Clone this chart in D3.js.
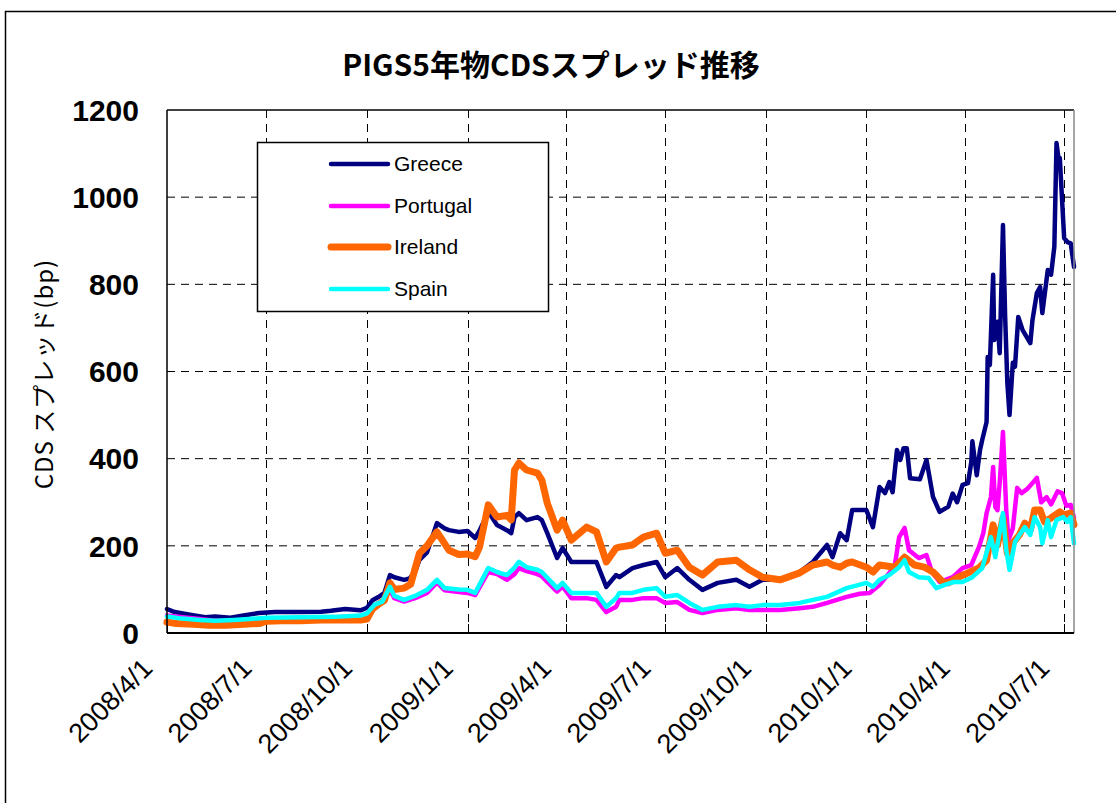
<!DOCTYPE html>
<html>
<head>
<meta charset="utf-8">
<script src="https://cdn.jsdelivr.net/npm/d3@7"></script>
<style>
  body { margin: 0; background: #fff; }
  svg { display: block; }
  text { font-family: "Liberation Sans", Arial, "Noto Sans CJK JP", sans-serif; fill: #000; }
</style>
</head>
<body>
<svg id="chart" width="1116" height="803"></svg>
<script>
// data ***********************************************************************
var seriesNames = ["Greece", "Portugal", "Ireland", "Spain"]
var seriesCols = ["#000080", "#ff00ff", "#ff6600", "#00ffff"]
var seriesWidths = [4.5, 4.5, 7, 4.5]
var yTicks = [0, 200, 400, 600, 800, 1000, 1200]

var greece = [["2008-04-01",55],["2008-04-08",48],["2008-04-22",42],["2008-05-06",36],["2008-05-15",38],["2008-05-29",35],["2008-06-10",40],["2008-06-24",46],["2008-07-09",48],["2008-08-01",48],["2008-08-20",49],["2008-08-29",51],["2008-09-11",55],["2008-09-25",52],["2008-10-01",58],["2008-10-06",75],["2008-10-11",82],["2008-10-17",92],["2008-10-22",133],["2008-10-26",128],["2008-11-04",122],["2008-11-09",125],["2008-11-14",140],["2008-11-18",168],["2008-11-25",185],["2008-12-04",252],["2008-12-11",240],["2008-12-15",236],["2008-12-24",232],["2009-01-01",234],["2009-01-08",218],["2009-01-12",235],["2009-01-20",278],["2009-01-28",248],["2009-02-06",236],["2009-02-10",229],["2009-02-13",266],["2009-02-17",275],["2009-02-24",259],["2009-03-06",266],["2009-03-10",259],["2009-03-15",229],["2009-03-24",172],["2009-03-29",195],["2009-04-06",163],["2009-04-20",163],["2009-04-29",163],["2009-05-08",106],["2009-05-17",133],["2009-05-20",128],["2009-06-01",149],["2009-06-11",156],["2009-06-23",163],["2009-07-01",128],["2009-07-12",149],["2009-07-23",122],["2009-08-04",99],["2009-08-18",115],["2009-09-04",122],["2009-09-16",106],["2009-09-28",122],["2009-10-14",122],["2009-11-01",140],["2009-11-13",163],["2009-11-26",202],["2009-12-01",174],["2009-12-08",229],["2009-12-14",213],["2009-12-19",282],["2010-01-01",282],["2010-01-07",243],["2010-01-13",335],["2010-01-18",321],["2010-01-22",346],["2010-01-25",323],["2010-01-29",420],["2010-02-01",397],["2010-02-04",424],["2010-02-07",424],["2010-02-10",355],["2010-02-19",353],["2010-02-25",397],["2010-03-03",312],["2010-03-09",278],["2010-03-17",290],["2010-03-21",320],["2010-03-25",300],["2010-03-30",340],["2010-04-04",344],["2010-04-07",392],["2010-04-08",440],["2010-04-12",362],["2010-04-15",420],["2010-04-17",443],["2010-04-21",484],["2010-04-22",633],["2010-04-24",615],["2010-04-27",822],["2010-04-28",672],["2010-05-01",714],["2010-05-03",642],["2010-05-06",936],["2010-05-08",725],["2010-05-10",574],["2010-05-12",500],["2010-05-15",620],["2010-05-17",611],["2010-05-20",725],["2010-05-24",695],["2010-05-31",665],["2010-06-02",718],["2010-06-06",780],["2010-06-09",794],["2010-06-11",734],["2010-06-16",833],["2010-06-19",822],["2010-06-22",886],["2010-06-24",1124],["2010-06-26",1085],["2010-06-27",1090],["2010-07-01",906],["2010-07-04",897],["2010-07-07",894],["2010-07-10",840]]

var portugal = [["2008-04-01",40],["2008-04-15",36],["2008-05-01",32],["2008-05-15",28],["2008-06-01",28],["2008-06-15",30],["2008-07-01",33],["2008-08-01",34],["2008-09-01",36],["2008-09-25",38],["2008-10-01",45],["2008-10-08",62],["2008-10-15",70],["2008-10-22",100],["2008-10-26",80],["2008-11-04",72],["2008-11-14",80],["2008-11-25",92],["2008-12-04",116],["2008-12-11",98],["2008-12-24",94],["2009-01-01",92],["2009-01-08",87],["2009-01-20",140],["2009-01-28",135],["2009-02-06",122],["2009-02-13",135],["2009-02-17",149],["2009-02-24",142],["2009-03-06",135],["2009-03-10",130],["2009-03-24",95],["2009-03-29",107],["2009-04-06",80],["2009-04-20",80],["2009-04-29",76],["2009-05-08",48],["2009-05-17",60],["2009-05-20",76],["2009-06-01",76],["2009-06-11",80],["2009-06-23",80],["2009-07-01",69],["2009-07-12",71],["2009-07-23",53],["2009-08-04",46],["2009-08-18",53],["2009-09-04",57],["2009-09-16",53],["2009-09-28",53],["2009-10-14",53],["2009-11-01",57],["2009-11-13",60],["2009-11-26",69],["2009-12-14",83],["2009-12-26",90],["2010-01-04",92],["2010-01-13",110],["2010-01-22",138],["2010-01-27",155],["2010-01-31",220],["2010-02-05",241],["2010-02-09",190],["2010-02-18",172],["2010-02-25",179],["2010-03-02",140],["2010-03-09",117],["2010-03-21",128],["2010-03-30",149],["2010-04-07",156],["2010-04-14",197],["2010-04-18",229],["2010-04-21",275],["2010-04-25",312],["2010-04-27",381],["2010-04-29",289],["2010-05-01",282],["2010-05-03",344],["2010-05-06",461],["2010-05-09",282],["2010-05-11",213],["2010-05-15",240],["2010-05-19",333],["2010-05-23",321],["2010-05-28",330],["2010-06-02",344],["2010-06-06",356],["2010-06-10",300],["2010-06-15",312],["2010-06-19",295],["2010-06-25",325],["2010-06-29",321],["2010-07-03",292],["2010-07-07",294],["2010-07-10",264]]

var ireland = [["2008-04-01",25],["2008-04-10",22],["2008-04-25",20],["2008-05-10",18],["2008-05-25",18],["2008-06-10",20],["2008-06-25",22],["2008-07-01",27],["2008-07-15",28],["2008-08-01",28],["2008-08-20",30],["2008-09-10",30],["2008-09-25",30],["2008-10-01",32],["2008-10-06",55],["2008-10-11",65],["2008-10-17",75],["2008-10-22",115],["2008-10-26",100],["2008-11-04",103],["2008-11-10",112],["2008-11-18",183],["2008-11-25",200],["2008-12-04",232],["2008-12-15",190],["2008-12-24",180],["2009-01-01",181],["2009-01-08",175],["2009-01-12",197],["2009-01-20",294],["2009-01-28",266],["2009-02-06",270],["2009-02-10",260],["2009-02-13",374],["2009-02-17",390],["2009-02-24",374],["2009-03-06",367],["2009-03-10",351],["2009-03-15",298],["2009-03-24",236],["2009-03-29",259],["2009-04-06",213],["2009-04-20",243],["2009-04-29",232],["2009-05-08",163],["2009-05-17",195],["2009-05-20",197],["2009-06-01",202],["2009-06-11",220],["2009-06-23",229],["2009-07-01",183],["2009-07-12",190],["2009-07-23",151],["2009-08-04",133],["2009-08-18",163],["2009-09-04",167],["2009-09-16",145],["2009-09-28",128],["2009-10-14",122],["2009-11-01",138],["2009-11-13",156],["2009-11-26",163],["2009-12-01",156],["2009-12-08",151],["2009-12-14",160],["2009-12-19",163],["2010-01-01",151],["2010-01-07",140],["2010-01-13",156],["2010-01-27",151],["2010-02-05",174],["2010-02-14",156],["2010-02-23",151],["2010-03-03",140],["2010-03-12",117],["2010-03-17",115],["2010-03-26",128],["2010-04-04",138],["2010-04-14",149],["2010-04-21",167],["2010-04-27",248],["2010-05-01",202],["2010-05-06",264],["2010-05-10",183],["2010-05-15",206],["2010-05-21",225],["2010-05-26",252],["2010-05-31",236],["2010-06-04",282],["2010-06-09",282],["2010-06-13",255],["2010-06-19",264],["2010-06-27",278],["2010-07-01",271],["2010-07-07",275],["2010-07-10",248]]

var spain = [["2008-04-01",38],["2008-04-15",33],["2008-05-01",30],["2008-05-15",28],["2008-06-01",30],["2008-06-15",32],["2008-07-01",35],["2008-08-01",36],["2008-09-01",37],["2008-09-25",40],["2008-10-01",45],["2008-10-08",65],["2008-10-15",72],["2008-10-22",106],["2008-10-26",85],["2008-11-04",76],["2008-11-14",85],["2008-11-25",99],["2008-12-04",122],["2008-12-11",103],["2008-12-24",100],["2009-01-01",99],["2009-01-08",92],["2009-01-20",149],["2009-01-28",140],["2009-02-06",133],["2009-02-13",150],["2009-02-17",163],["2009-02-24",151],["2009-03-06",145],["2009-03-10",140],["2009-03-24",103],["2009-03-29",115],["2009-04-06",92],["2009-04-20",92],["2009-04-29",92],["2009-05-08",60],["2009-05-17",80],["2009-05-20",92],["2009-06-01",92],["2009-06-11",99],["2009-06-23",103],["2009-07-01",83],["2009-07-12",87],["2009-07-23",69],["2009-08-04",53],["2009-08-18",60],["2009-09-04",64],["2009-09-16",60],["2009-09-28",64],["2009-10-14",64],["2009-11-01",69],["2009-11-13",76],["2009-11-26",83],["2009-12-14",103],["2010-01-01",115],["2010-01-07",106],["2010-01-13",122],["2010-01-22",133],["2010-01-31",151],["2010-02-05",167],["2010-02-09",140],["2010-02-18",128],["2010-02-27",126],["2010-03-06",103],["2010-03-13",110],["2010-03-22",117],["2010-03-30",117],["2010-04-08",128],["2010-04-17",149],["2010-04-25",220],["2010-04-29",174],["2010-05-06",275],["2010-05-09",190],["2010-05-12",145],["2010-05-17",209],["2010-05-21",225],["2010-05-26",243],["2010-05-31",225],["2010-06-04",266],["2010-06-09",243],["2010-06-11",206],["2010-06-16",259],["2010-06-19",220],["2010-06-24",259],["2010-06-30",266],["2010-07-04",255],["2010-07-07",266],["2010-07-10",206]]

var allSeries = [greece, portugal, ireland, spain]

// chart setup ****************************************************************
var svg = d3.select("#chart")
var parse = d3.timeParse("%Y-%m-%d")

var plotL = 167, plotR = 1074, plotT = 110, plotB = 633;

var x = d3.scaleTime()
    .domain([parse("2008-04-01"), parse("2010-07-10")])
    .range([plotL, plotR]);
var y = d3.scaleLinear().domain([0, 1200]).range([plotB, plotT]);

var xTicks = d3.timeMonth.every(3).range(parse("2008-04-01"), parse("2010-07-02"));
var fmt = d3.timeFormat("%Y/%-m/%-d");

// outer frame
svg.append("rect")
    .attr("x", 5.5).attr("y", 11.5)
    .attr("width", 1200).attr("height", 900)
    .style("fill", "none").style("stroke", "#000").style("stroke-width", 1.5);

// title
svg.append("text")
    .attr("x", 551).attr("y", 76)
    .attr("text-anchor", "middle")
    .style("font-family", "'Noto Sans CJK JP', sans-serif")
    .style("font-weight", "bold")
    .style("font-size", "30px")
    .text("PIGS5年物CDSスプレッド推移");

// dashed grid
svg.append("g").selectAll("line").data(yTicks.slice(1, -1)).enter().append("line")
    .attr("x1", plotL).attr("x2", plotR)
    .attr("y1", d => y(d)).attr("y2", d => y(d))
    .style("stroke", "#000").style("stroke-width", 1).style("stroke-dasharray", "8,6");
svg.append("g").selectAll("line").data(xTicks.slice(1)).enter().append("line")
    .attr("x1", d => Math.round(x(d)) + 0.5).attr("x2", d => Math.round(x(d)) + 0.5)
    .attr("y1", plotT).attr("y2", plotB)
    .style("stroke", "#000").style("stroke-width", 1).style("stroke-dasharray", "8,6");

// inward ticks on the bottom axis
svg.append("g").selectAll("line").data(xTicks).enter().append("line")
    .attr("x1", d => Math.round(x(d)) + 0.5).attr("x2", d => Math.round(x(d)) + 0.5)
    .attr("y1", plotB - 9).attr("y2", plotB)
    .style("stroke", "#000").style("stroke-width", 1);

// lines
var line = d3.line()
    .x(d => x(parse(d[0])))
    .y(d => y(d[1]));

svg.append("g").selectAll("path").data(allSeries).enter().append("path")
    .attr("d", line)
    .style("fill", "none")
    .style("stroke", (d, i) => seriesCols[i])
    .style("stroke-width", (d, i) => seriesWidths[i])
    .style("stroke-linejoin", "round")
    .style("stroke-linecap", "round");

// plot border
svg.append("line").attr("x1", plotL).attr("x2", plotL).attr("y1", plotT).attr("y2", plotB)
    .style("stroke", "#000").style("stroke-width", 1.5);
svg.append("line").attr("x1", plotL).attr("x2", plotR).attr("y1", plotT).attr("y2", plotT)
    .style("stroke", "#000").style("stroke-width", 1.5);
svg.append("line").attr("x1", plotR).attr("x2", plotR).attr("y1", plotT).attr("y2", plotB)
    .style("stroke", "#888").style("stroke-width", 1.5);
svg.append("line").attr("x1", plotL).attr("x2", plotR).attr("y1", plotB).attr("y2", plotB)
    .style("stroke", "#000").style("stroke-width", 2);

// y labels
svg.append("g").selectAll("text").data(yTicks).enter().append("text")
    .attr("x", 139).attr("y", d => y(d))
    .attr("dy", "0.36em")
    .attr("text-anchor", "end")
    .style("font-weight", "bold")
    .style("font-size", "30px")
    .text(d => d);

svg.append("text")
    .attr("transform", "translate(53,374) rotate(-90)")
    .attr("text-anchor", "middle")
    .style("font-family", "'Noto Sans CJK JP', sans-serif")
    .style("font-size", "24px")
    .style("letter-spacing", "1px")
    .text("CDS スプレッド(bp)");

// x labels
svg.append("g").selectAll("text").data(xTicks).enter().append("text")
    .attr("transform", d => "translate(" + (x(d) - 13) + ",670) rotate(-45)")
    .attr("text-anchor", "end")
    .style("font-size", "27px")
    .text(d => fmt(d));

// Legend *********************************************************************
svg.append("rect")
    .attr("x", 257.5).attr("y", 142.5)
    .attr("width", 291).attr("height", 169)
    .style("fill", "#fff").style("stroke", "#000").style("stroke-width", 1.5);

var legY = [164, 206, 247, 289];
for (var k = 0; k < seriesNames.length; k++) {
    svg.append("line")
        .attr("x1", 331).attr("x2", 388).attr("y1", legY[k]).attr("y2", legY[k])
        .style("stroke", seriesCols[k]).style("stroke-width", seriesWidths[k])
        .style("stroke-linecap", "round");
    svg.append("text")
        .attr("x", 394).attr("y", legY[k] + 7)
        .style("font-size", "21px")
        .text(seriesNames[k]);
}
</script>
</body>
</html>
